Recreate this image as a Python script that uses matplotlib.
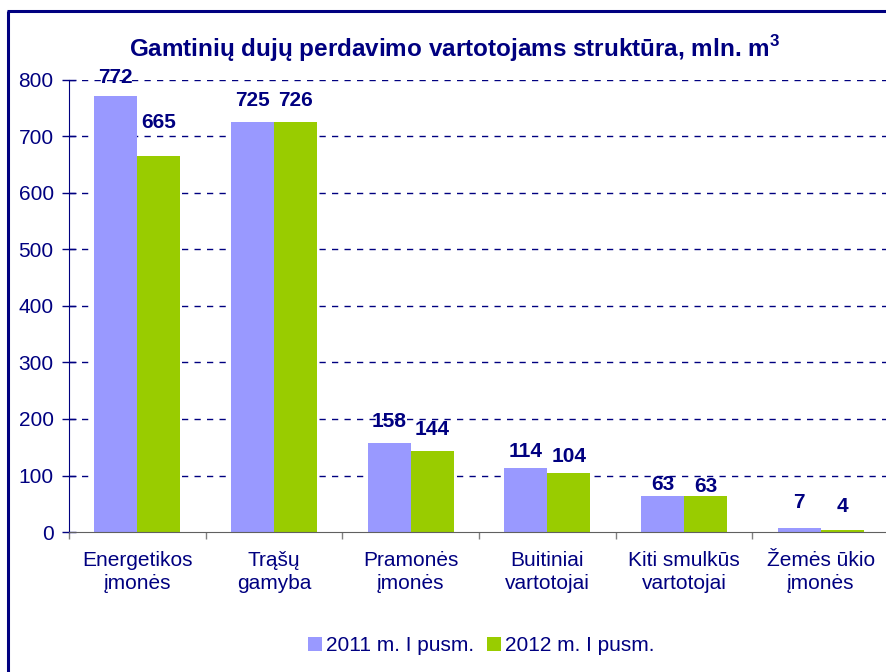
import matplotlib
matplotlib.use("Agg")
import matplotlib.pyplot as plt
from matplotlib.lines import Line2D
import numpy as np

categories = ["Energetikos\nįmonės", "Trąšų\ngamyba", "Pramonės\nįmonės",
              "Buitiniai\nvartotojai", "Kiti smulkūs\nvartotojai", "Žemės ūkio\nįmonės"]
series_names = ["2011 m. I pusm.", "2012 m. I pusm."]
values_2011 = [772, 725, 158, 114, 63, 7]
values_2012 = [665, 726, 144, 104, 63, 4]
y_ticks = [0, 100, 200, 300, 400, 500, 600, 700, 800]
title = "Gamtinių dujų perdavimo vartotojams struktūra, mln. m$^{\\mathbf{3}}$"

# label offsets above bar tops (pixels, to label centre)
label_off_2011 = [18.5, 21.5, 21.5, 16, 12, 26]
label_off_2012 = [33.5, 21.3, 21, 17, 10, 23.5]

NAVY = "#000080"
BLUE = "#9999FF"
GREEN = "#99CC00"

plt.rcParams['font.family'] = ['Liberation Sans', 'DejaVu Sans']
plt.rcParams['mathtext.fontset'] = 'custom'
plt.rcParams['mathtext.rm'] = 'Liberation Sans'
plt.rcParams['mathtext.bf'] = 'Liberation Sans:bold'

W, H = 886, 672
fig = plt.figure(figsize=(W / 100, H / 100), dpi=100)
fig.patch.set_facecolor("white")

left_px, right_px, top_px, bot_px = 69, 889, 80, 532
ax = fig.add_axes([left_px / W, 1 - bot_px / H, (right_px - left_px) / W, (bot_px - top_px) / H])

x = np.arange(len(categories))
w = 0.315
b1 = ax.bar(x - w / 2, values_2011, w, color=BLUE, label=series_names[0], zorder=3)
b2 = ax.bar(x + w / 2, values_2012, w, color=GREEN, label=series_names[1], zorder=3)

ax.set_xlim(-0.5, len(categories) - 0.5)
ax.set_ylim(0, 800)
ax.set_yticks(y_ticks)
ax.set_yticklabels([str(t) for t in y_ticks], fontsize=15, color=NAVY)

for yt in y_ticks[1:]:
    ax.axhline(yt, color=NAVY, lw=1.0, ls=(0, (4.5, 4.5)), zorder=1)

ax.set_xticks(np.arange(-0.5, len(categories), 1.0))
ax.set_xticklabels([])
ax.set_xticks(x, minor=True)
ax.set_xticklabels(categories, minor=True, fontsize=15, color=NAVY, linespacing=1.25)
ax.tick_params(axis='x', which='major', direction='out', length=5, width=1, color='#808080')
ax.tick_params(axis='x', which='minor', length=0, pad=14)
ax.tick_params(axis='y', direction='inout', length=10, width=1, color=NAVY, pad=6)

for s in ['top', 'right']:
    ax.spines[s].set_visible(False)
ax.spines['left'].set_color(NAVY)
ax.spines['bottom'].set_color('#606060')
ax.spines['left'].set_zorder(4)
ax.spines['bottom'].set_zorder(4)

for bars, vals, offs in ((b1, values_2011, label_off_2011), (b2, values_2012, label_off_2012)):
    for rect, v, o in zip(bars, vals, offs):
        ax.annotate(str(v), (rect.get_x() + rect.get_width() / 2, v),
                    xytext=(0, o), textcoords='offset pixels',
                    ha='center', va='center', fontsize=15, fontweight='bold',
                    color=NAVY, zorder=5, annotation_clip=False)

fig.text(454.5 / W, 1 - 57 / H, title, ha='center', va='baseline',
         fontsize=17.5, fontweight='bold', color=NAVY)

leg = fig.legend(handles=[b1, b2], labels=series_names, loc='center',
                 bbox_to_anchor=(481 / W, 1 - 645.5 / H), ncol=2, frameon=False,
                 fontsize=15, handlelength=0.67, handleheight=0.67,
                 handletextpad=0.2, columnspacing=0.6, borderpad=0)
for t in leg.get_texts():
    t.set_color(NAVY)

# frame around the chart (left and top visible)
fig.add_artist(Line2D([8 / W, 8 / W], [0, 1 - 10.5 / H], color=NAVY, lw=2.2,
                      transform=fig.transFigure, solid_capstyle='butt'))
fig.add_artist(Line2D([8 / W - 0.0012, 1], [1 - 10.5 / H, 1 - 10.5 / H], color=NAVY, lw=2.2,
                      transform=fig.transFigure, solid_capstyle='butt'))

fig.savefig("out.png", dpi=100)
